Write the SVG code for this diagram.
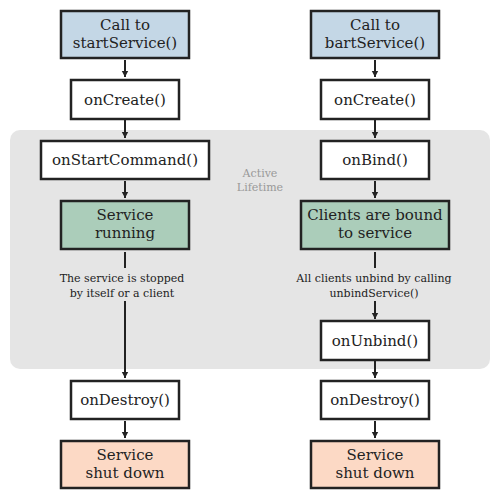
<svg xmlns="http://www.w3.org/2000/svg" width="500" height="494" viewBox="0 0 500 494">
<defs>
<marker id="ah" markerWidth="8" markerHeight="8" refX="6" refY="4" orient="auto" markerUnits="userSpaceOnUse">
<path d="M0,0.8 L6,4 L0,7.2 Z" fill="#222"/>
</marker>
<style>
.box{stroke:#222;stroke-width:2.5}
.w{fill:#fff}.b{fill:#c4d7e6}.g{fill:#abcdba}.p{fill:#fcd9c5}
.t{font-family:"DejaVu Serif","Liberation Serif",serif;font-size:15px;fill:#222;text-anchor:middle}
.s{font-family:"DejaVu Serif","Liberation Serif",serif;font-size:11px;fill:#222;text-anchor:middle}
.a{font-family:"DejaVu Serif","Liberation Serif",serif;font-size:11px;fill:#999;text-anchor:middle}
.c{stroke:#222;stroke-width:2;fill:none}
</style>
</defs>
<rect x="10" y="130" width="480" height="239" rx="10" fill="#e5e5e5"/>
<g id="active-label"><text class="a" x="260" y="177">Active</text><text class="a" x="260" y="191">Lifetime</text></g>
<g id="connectors">
<line class="c" x1="125" y1="60" x2="125" y2="77" marker-end="url(#ah)"/>
<line class="c" x1="125" y1="120" x2="125" y2="138" marker-end="url(#ah)"/>
<line class="c" x1="125" y1="181" x2="125" y2="198" marker-end="url(#ah)"/>
<line class="c" x1="125" y1="252" x2="125" y2="268"/>
<line class="c" x1="125" y1="301" x2="125" y2="378" marker-end="url(#ah)"/>
<line class="c" x1="125" y1="421" x2="125" y2="438" marker-end="url(#ah)"/>
<line class="c" x1="375" y1="60" x2="375" y2="77" marker-end="url(#ah)"/>
<line class="c" x1="375" y1="120" x2="375" y2="138" marker-end="url(#ah)"/>
<line class="c" x1="375" y1="181" x2="375" y2="198" marker-end="url(#ah)"/>
<line class="c" x1="375" y1="252" x2="375" y2="268"/>
<line class="c" x1="375" y1="301" x2="375" y2="319" marker-end="url(#ah)"/>
<line class="c" x1="375" y1="361" x2="375" y2="378" marker-end="url(#ah)"/>
<line class="c" x1="375" y1="421" x2="375" y2="438" marker-end="url(#ah)"/>
</g>
<g id="start-call"><rect class="box b" x="61" y="11" width="128" height="47"/><text class="t" x="125" y="30">Call to</text><text class="t" x="125" y="48">startService()</text></g>
<g id="start-oncreate"><rect class="box w" x="71" y="80" width="108" height="39"/><text class="t" x="125" y="105">onCreate()</text></g>
<g id="onstartcommand"><rect class="box w" x="41" y="141" width="168" height="38"/><text class="t" x="125" y="165">onStartCommand()</text></g>
<g id="service-running"><rect class="box g" x="61" y="201" width="128" height="48"/><text class="t" x="125" y="220">Service</text><text class="t" x="125" y="238">running</text></g>
<g id="stop-label"><text class="s" x="122" y="282">The service is stopped</text><text class="s" x="122" y="297">by itself or a client</text></g>
<g id="start-ondestroy"><rect class="box w" x="71" y="381" width="108" height="38"/><text class="t" x="125" y="405">onDestroy()</text></g>
<g id="start-shutdown"><rect class="box p" x="61" y="441" width="128" height="47"/><text class="t" x="125" y="460">Service</text><text class="t" x="125" y="478">shut down</text></g>
<g id="bind-call"><rect class="box b" x="311" y="11" width="128" height="47"/><text class="t" x="375" y="30">Call to</text><text class="t" x="375" y="48">bartService()</text></g>
<g id="bind-oncreate"><rect class="box w" x="321" y="80" width="108" height="39"/><text class="t" x="375" y="105">onCreate()</text></g>
<g id="onbind"><rect class="box w" x="321" y="141" width="108" height="38"/><text class="t" x="375" y="165">onBind()</text></g>
<g id="clients-bound"><rect class="box g" x="301" y="201" width="148" height="48"/><text class="t" x="375" y="220">Clients are bound</text><text class="t" x="375" y="238">to service</text></g>
<g id="unbind-label"><text class="s" x="374" y="282">All clients unbind by calling</text><text class="s" x="374" y="297">unbindService()</text></g>
<g id="onunbind"><rect class="box w" x="321" y="321" width="108" height="39"/><text class="t" x="375" y="346">onUnbind()</text></g>
<g id="bind-ondestroy"><rect class="box w" x="321" y="381" width="108" height="38"/><text class="t" x="375" y="405">onDestroy()</text></g>
<g id="bind-shutdown"><rect class="box p" x="311" y="441" width="128" height="47"/><text class="t" x="375" y="460">Service</text><text class="t" x="375" y="478">shut down</text></g>
</svg>
